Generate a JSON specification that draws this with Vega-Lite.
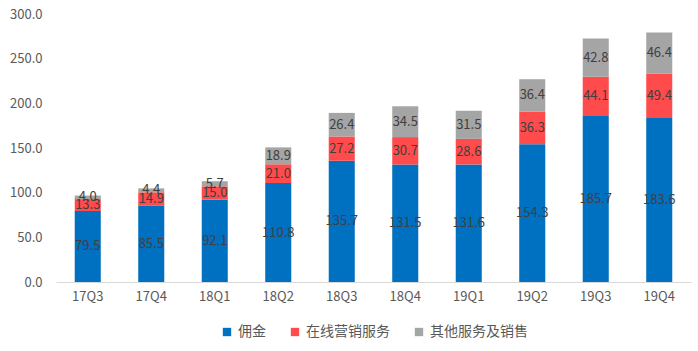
{
  "$schema": "https://vega.github.io/schema/vega-lite/v6.json",
  "width": 698,
  "height": 351,
  "autosize": {"type": "fit", "contains": "padding"},
  "padding": {"left": 9, "top": 8, "right": 7, "bottom": 12},
  "background": "white",
  "config": {
    "view": {"stroke": null},
    "font": "Noto Sans CJK SC",
    "axis": {"labelFont": "Noto Sans CJK SC", "labelColor": "#595959", "labelFontSize": 13},
    "legend": {"layout": {"bottom": {"anchor": "middle"}}}
  },
  "data": {
    "values": [
      {"q": "17Q3", "s": "佣金", "o": 1, "v": 79.5},
      {"q": "17Q3", "s": "在线营销服务", "o": 2, "v": 13.3},
      {"q": "17Q3", "s": "其他服务及销售", "o": 3, "v": 4.0},
      {"q": "17Q4", "s": "佣金", "o": 1, "v": 85.5},
      {"q": "17Q4", "s": "在线营销服务", "o": 2, "v": 14.9},
      {"q": "17Q4", "s": "其他服务及销售", "o": 3, "v": 4.4},
      {"q": "18Q1", "s": "佣金", "o": 1, "v": 92.1},
      {"q": "18Q1", "s": "在线营销服务", "o": 2, "v": 15.0},
      {"q": "18Q1", "s": "其他服务及销售", "o": 3, "v": 5.7},
      {"q": "18Q2", "s": "佣金", "o": 1, "v": 110.8},
      {"q": "18Q2", "s": "在线营销服务", "o": 2, "v": 21.0},
      {"q": "18Q2", "s": "其他服务及销售", "o": 3, "v": 18.9},
      {"q": "18Q3", "s": "佣金", "o": 1, "v": 135.7},
      {"q": "18Q3", "s": "在线营销服务", "o": 2, "v": 27.2},
      {"q": "18Q3", "s": "其他服务及销售", "o": 3, "v": 26.4},
      {"q": "18Q4", "s": "佣金", "o": 1, "v": 131.5},
      {"q": "18Q4", "s": "在线营销服务", "o": 2, "v": 30.7},
      {"q": "18Q4", "s": "其他服务及销售", "o": 3, "v": 34.5},
      {"q": "19Q1", "s": "佣金", "o": 1, "v": 131.6},
      {"q": "19Q1", "s": "在线营销服务", "o": 2, "v": 28.6},
      {"q": "19Q1", "s": "其他服务及销售", "o": 3, "v": 31.5},
      {"q": "19Q2", "s": "佣金", "o": 1, "v": 154.3},
      {"q": "19Q2", "s": "在线营销服务", "o": 2, "v": 36.3},
      {"q": "19Q2", "s": "其他服务及销售", "o": 3, "v": 36.4},
      {"q": "19Q3", "s": "佣金", "o": 1, "v": 185.7},
      {"q": "19Q3", "s": "在线营销服务", "o": 2, "v": 44.1},
      {"q": "19Q3", "s": "其他服务及销售", "o": 3, "v": 42.8},
      {"q": "19Q4", "s": "佣金", "o": 1, "v": 183.6},
      {"q": "19Q4", "s": "在线营销服务", "o": 2, "v": 49.4},
      {"q": "19Q4", "s": "其他服务及销售", "o": 3, "v": 46.4}
    ]
  },
  "transform": [
    {"stack": "v", "groupby": ["q"], "sort": [{"field": "o", "order": "ascending"}], "as": ["y0", "y1"]},
    {"calculate": "(datum.y0 + datum.y1) / 2", "as": "ym"}
  ],
  "encoding": {
    "x": {
      "field": "q", "type": "nominal", "sort": null, "title": null,
      "scale": {"paddingInner": 0.59, "paddingOuter": 0.295},
      "axis": {"labelAngle": 0, "ticks": false, "domainColor": "#D9D9D9", "labelPadding": 8}
    }
  },
  "layer": [
    {
      "mark": {"type": "bar"},
      "encoding": {
        "y": {
          "field": "y0", "type": "quantitative", "title": null,
          "scale": {"domain": [0, 300]},
          "axis": {"values": [0, 50, 100, 150, 200, 250, 300], "format": ".1f", "grid": false, "domain": false, "ticks": false, "labelPadding": 14}
        },
        "y2": {"field": "y1"},
        "color": {
          "field": "s", "type": "nominal", "title": null,
          "sort": ["佣金", "在线营销服务", "其他服务及销售"],
          "scale": {"domain": ["佣金", "在线营销服务", "其他服务及销售"], "range": ["#0070C0", "#FF4B4B", "#A5A5A5"]},
          "legend": {
            "orient": "bottom", "direction": "horizontal", "symbolType": "square",
            "symbolSize": 70, "symbolStrokeWidth": 0, "labelFontSize": 14, "labelColor": "#595959",
            "labelFont": "Noto Sans CJK SC", "columnPadding": 22, "offset": 22
          }
        }
      }
    },
    {
      "mark": {"type": "text", "fontSize": 13, "color": "#404040", "baseline": "middle"},
      "encoding": {
        "y": {"field": "ym", "type": "quantitative"},
        "text": {"field": "v", "type": "quantitative", "format": ".1f"}
      }
    }
  ]
}
